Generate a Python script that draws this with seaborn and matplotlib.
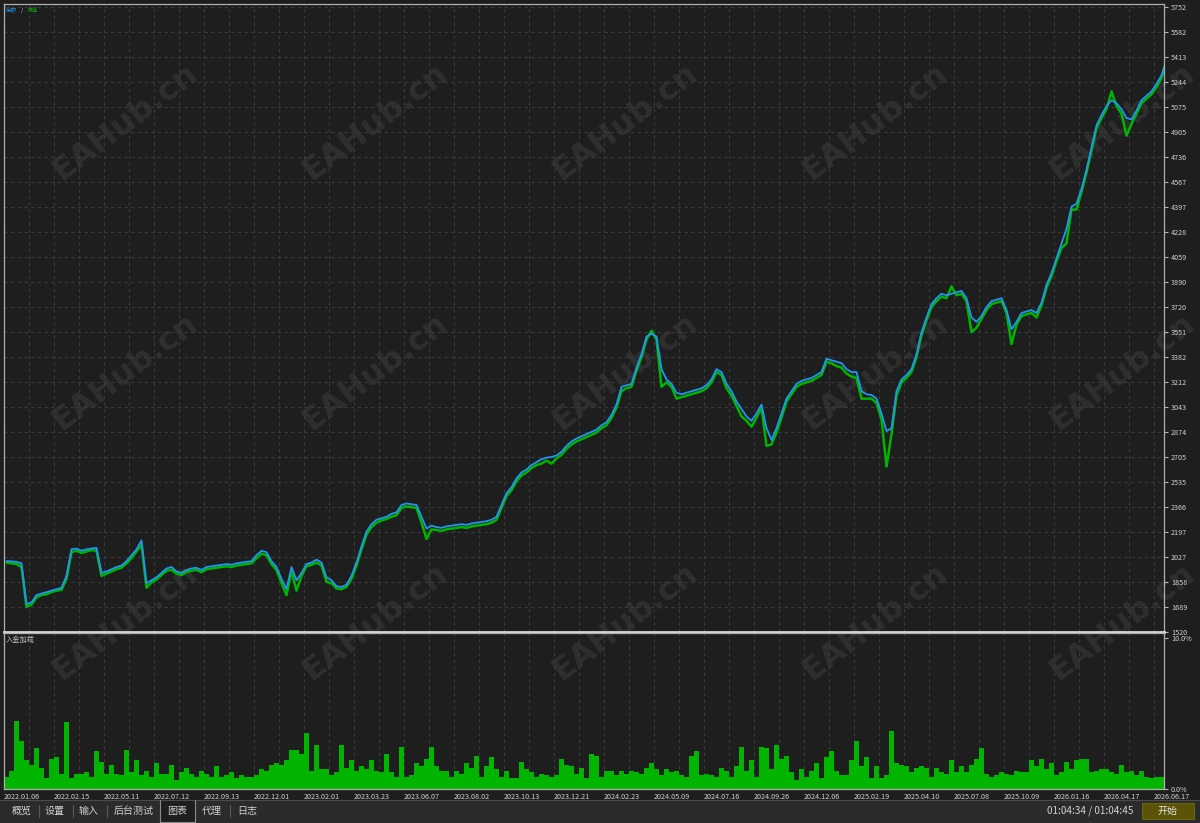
import matplotlib
matplotlib.use("Agg")
import matplotlib.pyplot as plt
import seaborn as sns
import pandas as pd
from matplotlib.patches import Rectangle

# x-axis date labels (one every 10 samples)
dates = ["2022.01.06", "2022.02.15", "2022.05.11", "2022.07.12", "2022.09.13", "2022.12.01",
         "2023.02.01", "2023.03.23", "2023.06.07", "2023.08.02", "2023.10.13", "2023.12.21",
         "2024.02.23", "2024.05.09", "2024.07.16", "2024.09.26", "2024.12.06", "2025.02.19",
         "2025.04.10", "2025.07.08", "2025.10.09", "2026.01.16", "2026.04.17", "2026.06.17"]

y_ticks = [1520, 1689, 1858, 2027, 2197, 2366, 2535, 2705, 2874, 3043, 3212, 3382, 3551,
           3720, 3890, 4059, 4228, 4397, 4567, 4736, 4905, 5075, 5244, 5413, 5582, 5752]

# 余额 (balance)
balance = [
    2000, 1998, 1995, 1985, 1710, 1720, 1770, 1780, 1790, 1800,
    1810, 1820, 1900, 2080, 2085, 2070, 2080, 2085, 2090, 1920,
    1930, 1945, 1960, 1970, 2000, 2040, 2080, 2140, 1850, 1870,
    1890, 1920, 1950, 1960, 1930, 1920, 1940, 1950, 1955, 1940,
    1960, 1965, 1970, 1975, 1980, 1975, 1985, 1990, 1995, 2000,
    2040, 2070, 2060, 2000, 1960, 1880, 1810, 1960, 1870, 1920,
    1980, 1990, 2010, 1990, 1890, 1870, 1830, 1825, 1840, 1900,
    1990, 2100, 2200, 2250, 2280, 2290, 2300, 2320, 2330, 2380,
    2390, 2385, 2380, 2300, 2220, 2240, 2230, 2225, 2235, 2240,
    2245, 2250, 2245, 2255, 2260, 2265, 2270, 2280, 2300, 2380,
    2460, 2500, 2560, 2600, 2620, 2650, 2670, 2690, 2700, 2705,
    2715, 2740, 2780, 2810, 2830, 2845, 2860, 2875, 2890, 2920,
    2940, 2990, 3060, 3180, 3190, 3200, 3310, 3400, 3520, 3540,
    3520, 3300, 3230, 3200, 3140, 3130, 3140, 3150, 3160, 3170,
    3190, 3230, 3300, 3280, 3200, 3150, 3080, 3030, 2980, 2950,
    3000, 3060, 2900, 2820, 2900, 3000, 3100, 3150, 3200, 3220,
    3230, 3240, 3260, 3280, 3370, 3360, 3350, 3340, 3300, 3280,
    3280, 3150, 3130, 3125, 3100, 3000, 2880, 2900, 3150, 3230,
    3260, 3300, 3400, 3550, 3650, 3740, 3780, 3810, 3800, 3810,
    3820, 3830, 3780, 3650, 3620, 3660, 3720, 3760, 3770, 3780,
    3700, 3570, 3620, 3680, 3690, 3700, 3680, 3750, 3870, 3950,
    4050, 4150, 4250, 4400, 4420, 4520, 4650, 4800, 4950, 5020,
    5080, 5120, 5100, 5060, 5000, 4990, 5050, 5120, 5150, 5180,
    5230, 5290, 5380]

# 净值 (equity)
equity = [
    1990, 1985, 1980, 1960, 1690, 1705, 1755, 1770, 1775, 1790,
    1800, 1805, 1880, 2060, 2070, 2055, 2065, 2075, 2070, 1900,
    1915, 1930, 1945, 1955, 1985, 2020, 2065, 2110, 1820, 1855,
    1875, 1905, 1935, 1940, 1915, 1905, 1925, 1935, 1940, 1925,
    1945, 1950, 1955, 1960, 1965, 1960, 1970, 1975, 1980, 1985,
    2020, 2050, 2040, 1980, 1940, 1850, 1770, 1930, 1800, 1900,
    1965, 1975, 1990, 1970, 1860, 1850, 1815, 1810, 1825, 1880,
    1970, 2080, 2180, 2230, 2260, 2275, 2285, 2300, 2310, 2360,
    2370, 2365, 2360, 2260, 2150, 2215, 2210, 2205, 2215, 2220,
    2225, 2230, 2225, 2235, 2240, 2245, 2250, 2260, 2280, 2360,
    2440, 2480, 2540, 2580, 2600, 2630, 2650, 2660, 2680, 2660,
    2695, 2720, 2760, 2790, 2810, 2825, 2840, 2855, 2870, 2900,
    2920, 2970, 3040, 3150, 3170, 3180, 3290, 3380, 3500, 3560,
    3500, 3180, 3210, 3180, 3100, 3110, 3120, 3130, 3140, 3150,
    3170, 3210, 3280, 3260, 3170, 3120, 3050, 2980, 2950, 2910,
    2970, 3040, 2780, 2790, 2870, 2970, 3080, 3130, 3180, 3200,
    3210, 3220, 3240, 3260, 3350, 3340, 3320, 3310, 3270, 3250,
    3240, 3100, 3100, 3100, 3070, 2960, 2640, 2860, 3120, 3210,
    3240, 3280, 3380, 3530, 3630, 3720, 3760, 3790, 3780, 3860,
    3800, 3810, 3760, 3550, 3580, 3640, 3700, 3740, 3750, 3760,
    3680, 3470, 3600, 3660, 3670, 3680, 3650, 3730, 3850, 3930,
    4030, 4120, 4150, 4380, 4380, 4500, 4630, 4780, 4930, 5000,
    5060, 5180, 5080, 5030, 4880, 4960, 5030, 5100, 5130, 5160,
    5210, 5270, 5400]

# 入金加载 (deposit load, %)
load = [
    0.8, 1.2, 4.5, 3.2, 1.9, 1.6, 2.7, 1.4, 0.7, 2.0,
    2.1, 1.0, 4.4, 0.7, 1.0, 1.0, 1.1, 0.8, 2.5, 1.8,
    1.0, 1.6, 1.0, 0.9, 2.6, 1.1, 1.9, 0.9, 1.2, 0.8,
    1.7, 1.0, 1.0, 1.6, 0.6, 1.1, 1.4, 1.0, 0.8, 1.2,
    1.0, 0.8, 1.5, 0.8, 0.9, 1.1, 0.7, 0.9, 0.8, 0.8,
    0.9, 1.3, 1.2, 1.6, 1.7, 1.6, 1.9, 2.6, 2.6, 2.3,
    3.7, 1.2, 2.9, 1.3, 1.3, 0.9, 1.1, 2.9, 1.4, 1.9,
    1.2, 1.5, 1.3, 1.9, 1.2, 1.1, 2.3, 1.1, 0.8, 2.8,
    0.8, 0.9, 1.7, 1.5, 2.0, 2.8, 1.5, 1.2, 1.2, 0.8,
    1.2, 1.0, 1.7, 1.4, 2.2, 0.8, 1.5, 2.1, 1.3, 0.8,
    1.2, 0.7, 0.7, 1.8, 1.3, 1.1, 0.8, 1.0, 0.9, 0.8,
    0.9, 2.0, 1.6, 1.5, 1.0, 1.4, 0.7, 2.3, 2.2, 0.8,
    1.2, 1.2, 0.9, 1.2, 1.0, 1.2, 1.1, 1.0, 1.4, 1.7,
    1.3, 0.9, 1.3, 1.1, 1.2, 0.9, 0.8, 2.2, 2.5, 0.9,
    1.0, 0.9, 0.8, 1.4, 1.2, 0.8, 1.5, 2.8, 1.2, 1.9,
    0.8, 2.8, 2.7, 1.3, 2.9, 2.0, 2.2, 1.1, 0.6, 1.3,
    0.8, 1.2, 1.7, 0.7, 2.1, 2.5, 1.2, 0.9, 0.9, 1.9,
    3.2, 1.5, 2.1, 0.7, 1.5, 0.7, 0.9, 3.8, 1.7, 1.6,
    1.5, 1.1, 1.4, 1.5, 1.4, 0.8, 1.4, 1.1, 1.0, 1.9,
    1.1, 1.5, 1.1, 1.6, 2.0, 2.7, 1.0, 0.8, 0.9, 1.1,
    1.0, 0.9, 1.2, 1.1, 1.1, 1.9, 1.5, 2.0, 1.3, 1.7,
    0.9, 1.1, 1.8, 1.3, 1.9, 2.0, 2.0, 1.1, 1.2, 1.3,
    1.3, 1.1, 1.0, 1.6, 1.1, 1.2, 0.9, 1.2, 0.8, 0.7,
    0.8, 0.8, 0.8]

tabs = ["概览", "设置", "输入", "后台测试", "图表", "代理", "日志"]

sns.set_style("dark")
plt.rcParams['font.family'] = ['Noto Sans CJK SC', 'DejaVu Sans']

BG = '#1e1e1e'
GRID = '#3a3a3a'
FRAME = '#b0b0b0'
TXT = '#d0d0d0'
BLUE = '#2196f3'
GREEN = '#00b400'
W, H = 1200, 823

n = len(balance)
df = pd.DataFrame({'idx': range(n), 'balance': balance, 'equity': equity, 'load': load})
x_lo, x_hi = -0.5, n - 1.5

fig = plt.figure(figsize=(12, 8.23), dpi=100, facecolor=BG)

# background layer: watermark, tab bar, captions (pixel coordinates)
bg = fig.add_axes([0, 0, 1, 1], zorder=-1)
bg.set_xlim(0, W)
bg.set_ylim(H, 0)
bg.axis('off')
for cy in (122, 372, 622):
    for cx in (125, 375, 625, 875, 1122):
        bg.text(cx, cy, 'EAHub.cn', rotation=37, ha='center', va='center', fontsize=23,
                fontweight='bold', family='DejaVu Sans', color='white', alpha=0.08)

bg.add_patch(Rectangle((0, 800), W, 23, fc='#2b2b2b', ec='none'))
bg.plot([0, W], [800, 800], color='#4a4a4a', lw=0.8)
tab_x = [22, 55, 89, 134, 177, 212, 247]
for t, tx in zip(tabs, tab_x):
    bg.text(tx, 811, t, ha='center', va='center', fontsize=7.2, color=TXT)
for sx in (39, 73, 107, 230):
    bg.plot([sx, sx], [805, 817], color='#5a5a5a', lw=0.8)
bg.add_patch(Rectangle((160, 800), 35, 22, fc=BG, ec='none'))
bg.plot([160, 160, 195, 195], [800, 822, 822, 800], color='#8a8a8a', lw=0.8)
bg.text(1090, 811, '01:04:34 / 01:04:45', ha='center', va='center', fontsize=7.2, color=TXT)
bg.add_patch(Rectangle((1142, 803), 52, 16, fc='#5a5308', ec='#6b6412', lw=0.8))
bg.text(1168, 811, '开始', ha='center', va='center', fontsize=7.2, color='#e0e0e0')

bg.text(6, 10, '余额', ha='left', va='center', fontsize=4, color=BLUE)
bg.text(21, 10, '/', ha='left', va='center', fontsize=4, color=TXT)
bg.text(27, 10, '净值', ha='left', va='center', fontsize=4, color=GREEN)
bg.text(6, 640, '入金加载', ha='left', va='center', fontsize=5.2, color='#c0c0c0')

# main panel: balance / equity
ax1 = fig.add_axes([4 / W, 1 - 632 / H, 1160 / W, 628 / H])
ax1.set_facecolor('none')
sns.lineplot(data=df, x='idx', y='equity', ax=ax1, color=GREEN, lw=1.8,
             estimator=None, sort=False)
sns.lineplot(data=df, x='idx', y='balance', ax=ax1, color=BLUE, lw=1.3,
             estimator=None, sort=False)
ax1.set_xlim(x_lo, x_hi)
ax1.set_ylim(1520, 5772)
ax1.set_xlabel('')
ax1.set_ylabel('')
ax1.yaxis.tick_right()
ax1.set_yticks(y_ticks, [str(v) for v in y_ticks])
ax1.set_xticks([x_lo + 5 * k for k in range(47)], [''] * 47)
ax1.tick_params(axis='x', length=0)
ax1.tick_params(axis='y', length=3, color=FRAME, labelcolor=TXT, labelsize=5.2, pad=2)
ax1.grid(True, color=GRID, ls=(0, (3, 3)), lw=0.8)
for s in ax1.spines.values():
    s.set_color(FRAME)
    s.set_linewidth(0.9)
ax1.spines['bottom'].set_color('#d8d8d8')
ax1.spines['bottom'].set_linewidth(2)

# lower panel: deposit load
ax2 = fig.add_axes([4 / W, 1 - 789 / H, 1160 / W, 156 / H])
ax2.set_facecolor('none')
sns.barplot(data=df, x='idx', y='load', ax=ax2, color=GREEN, width=1, linewidth=0,
            saturation=1, errorbar=None, native_scale=True)
ax2.set_xlim(x_lo, x_hi)
ax2.set_ylim(0, 10.3)
ax2.set_xlabel('')
ax2.set_ylabel('')
ax2.yaxis.tick_right()
ax2.set_yticks([0, 10], ['0.0%', '10.0%'])
ax2.set_xticks([x_lo + 10 * k for k in range(len(dates))], dates)
ax2.set_xticks([x_lo + 5 * k for k in range(47)], minor=True)
for lab in ax2.get_xticklabels():
    lab.set_horizontalalignment('left')
ax2.tick_params(axis='x', which='major', length=2, color=FRAME, labelcolor=TXT,
                labelsize=5.2, pad=1)
ax2.tick_params(axis='x', which='minor', length=0)
ax2.tick_params(axis='y', length=3, color=FRAME, labelcolor=TXT, labelsize=5.2, pad=2)
ax2.grid(True, axis='x', which='both', color=GRID, ls=(0, (3, 3)), lw=0.8)
ax2.grid(False, axis='y')
for s in ax2.spines.values():
    s.set_color(FRAME)
    s.set_linewidth(0.9)

fig.savefig('out.png', dpi=100, facecolor=BG)
